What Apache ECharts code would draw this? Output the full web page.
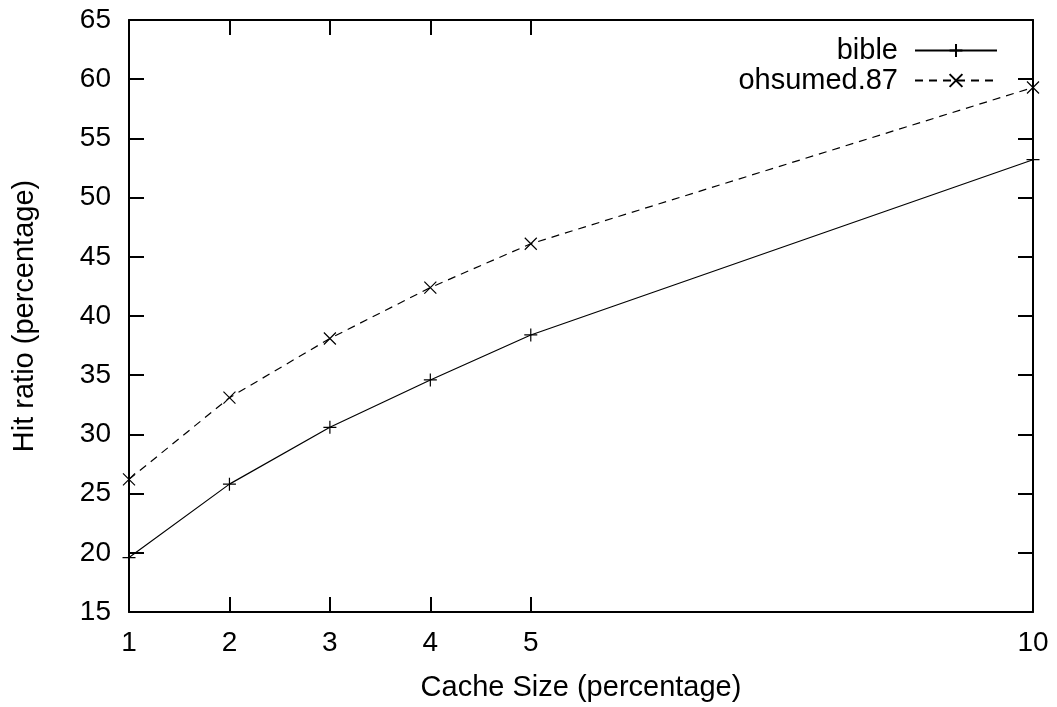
<!DOCTYPE html>
<html>
<head>
<meta charset="utf-8">
<script src="https://cdn.jsdelivr.net/npm/echarts@6/dist/echarts.min.js"></script>
<style>
  html, body { margin: 0; padding: 0; background: #fff; }
  #chart { width: 1057px; height: 707px; }
</style>
</head>
<body>
<div id="chart"></div>
<script>
// Cache size (percentage) at which hit ratios were measured
const cacheSizes = [1, 2, 3, 4, 5, 10];
// Hit ratio (percentage) per collection
const bibleHits = [19.6, 25.8, 30.6, 34.6, 38.4, 53.2];
const ohsumedHits = [26.2, 33.1, 38.1, 42.4, 46.1, 59.3];
// Axis tick values
const xTicks = [1, 2, 3, 4, 5, 10];
const yTicks = [15, 20, 25, 30, 35, 40, 45, 50, 55, 60, 65];

const FONT = 'Liberation Sans, Arial, Helvetica, sans-serif';
const FS = 28;      // tick labels
const FS_NAME = 29; // axis titles and legend
const plusPath = 'path://M0,5L10,5M5,0L5,10';
const crossPath = 'path://M0,0L10,10M0,10L10,0';

const pairs = (xs, ys) => xs.map((x, i) => [x, ys[i]]);

const frameLine = { show: true, onZero: false, lineStyle: { color: '#000', width: 2 } };
const innerTick = { show: true, inside: true, length: 15, lineStyle: { color: '#000', width: 2 } };

const chart = echarts.init(document.getElementById('chart'), null, { renderer: 'canvas' });

const legendBase = {
  orient: 'horizontal',
  right: 59,
  padding: 0,
  align: 'right',
  itemWidth: 82,
  itemHeight: 16,
  itemGap: 0,
  textStyle: { color: '#000', fontSize: FS_NAME, fontFamily: FONT, padding: [0, 12, 0, 0] },
  selectedMode: false
};

chart.setOption({
  animation: false,
  backgroundColor: '#fff',
  grid: { left: 129, right: 24, top: 20, bottom: 95, containLabel: false },
  legend: [
    Object.assign({}, legendBase, { top: 36, data: ['bible'] }),
    Object.assign({}, legendBase, { top: 66, data: ['ohsumed.87'] })
  ],
  xAxis: [
    {
      type: 'value', position: 'bottom', min: 1, max: 10,
      name: 'Cache Size (percentage)', nameLocation: 'middle', nameGap: 61,
      nameTextStyle: { color: '#000', fontSize: FS_NAME, fontFamily: FONT },
      axisLine: frameLine,
      axisTick: Object.assign({}, innerTick, { customValues: xTicks }),
      axisLabel: { customValues: xTicks, color: '#000', fontSize: FS, fontFamily: FONT, margin: 17 },
      splitLine: { show: false }
    },
    {
      type: 'value', position: 'top', min: 1, max: 10,
      axisLine: frameLine,
      axisTick: Object.assign({}, innerTick, { customValues: xTicks }),
      axisLabel: { show: false },
      splitLine: { show: false }
    }
  ],
  yAxis: [
    {
      type: 'value', position: 'left', min: 15, max: 65, interval: 5,
      name: 'Hit ratio (percentage)', nameLocation: 'middle', nameGap: 90, nameRotate: 90,
      nameTextStyle: { color: '#000', fontSize: FS_NAME, fontFamily: FONT },
      axisLine: frameLine,
      axisTick: Object.assign({}, innerTick, { customValues: yTicks }),
      axisLabel: { customValues: yTicks, color: '#000', fontSize: FS, fontFamily: FONT, margin: 18 },
      splitLine: { show: false }
    },
    {
      type: 'value', position: 'right', min: 15, max: 65, interval: 5,
      axisLine: frameLine,
      axisTick: Object.assign({}, innerTick, { customValues: yTicks }),
      axisLabel: { show: false },
      splitLine: { show: false }
    }
  ],
  series: [
    {
      name: 'bible', type: 'line', xAxisIndex: 0, yAxisIndex: 0,
      data: pairs(cacheSizes, bibleHits),
      symbol: plusPath, symbolSize: 13, showAllSymbol: true,
      lineStyle: { color: '#000', width: 1.2, type: 'solid' },
      itemStyle: { color: '#000', borderColor: '#000', borderWidth: 1.2 },
      emphasis: { disabled: true }
    },
    {
      name: 'ohsumed.87', type: 'line', xAxisIndex: 0, yAxisIndex: 0,
      data: pairs(cacheSizes, ohsumedHits),
      symbol: crossPath, symbolSize: 12, showAllSymbol: true,
      lineStyle: { color: '#000', width: 1.2, type: [8, 6] },
      itemStyle: { color: '#000', borderColor: '#000', borderWidth: 1.2 },
      emphasis: { disabled: true }
    }
  ]
});
</script>
</body>
</html>
